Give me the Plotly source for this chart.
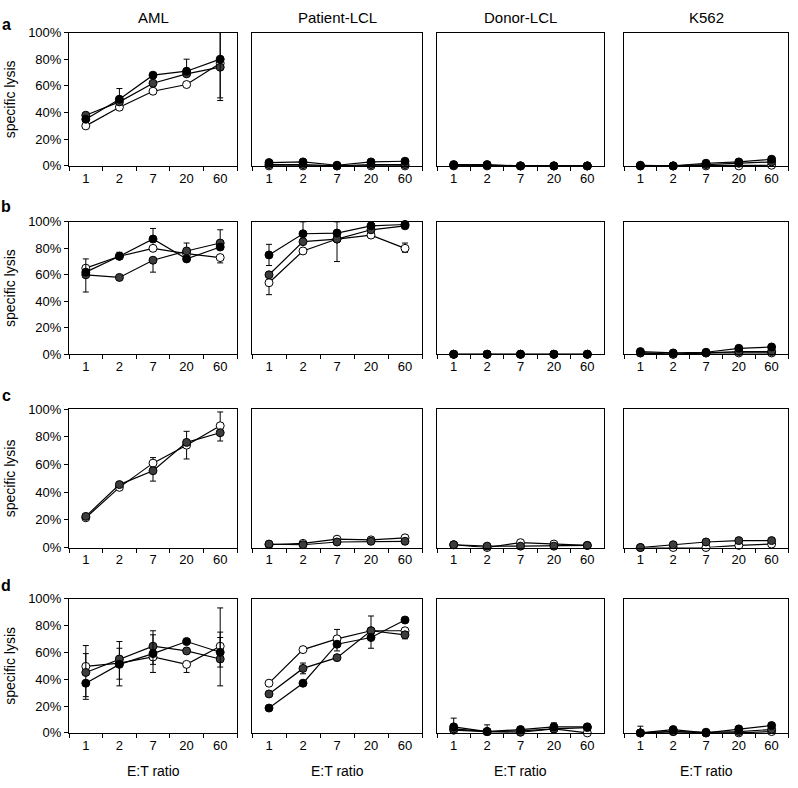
import plotly.graph_objects as go

ratios = ["1", "2", "7", "20", "60"]
columns = ["AML", "Patient-LCL", "Donor-LCL", "K562"]
rows = ["a", "b", "c", "d"]

# ---------------- values (% specific lysis) ----------------
# row a
a_AML_open = [30, 44, 56, 61, 77]
a_AML_gray = [38, 48, 62, 69, 74]
a_AML_black = [35, 50, 68, 71, 80]
a_Patient_open = [0, 0, 0, 0, 0]
a_Patient_gray = [1, 1, 0, 1, 1]
a_Patient_black = [2.5, 3, 0.5, 3, 3.5]
a_Donor_open = [0, 0, 0, 0, 0]
a_Donor_gray = [0.5, 0.5, 0, 0, 0]
a_Donor_black = [1, 1, 0, 0, 0]
a_K562_open = [0, 0, 0, 0, 0.5]
a_K562_gray = [0, 0, 1, 2, 3]
a_K562_black = [0.5, 0, 2, 3, 5]
# row b
b_AML_open = [65, 74, 80, 76, 73]
b_AML_gray = [60, 58, 71, 78, 84]
b_AML_black = [62, 74, 87, 72, 81]
b_Patient_open = [54, 78, 87, 90, 80]
b_Patient_gray = [60, 85, 87, 94, 97]
b_Patient_black = [75, 91, 91.5, 97, 98]
b_Donor_open = [0, 0, 0, 0, 0]
b_Donor_gray = [0, 0, 0, 0, 0]
b_Donor_black = [0, 0, 0, 0, 0]
b_K562_open = [1, 0, 1, 1, 1]
b_K562_gray = [1, 0, 1, 2, 2]
b_K562_black = [2, 1, 1.5, 4.5, 5.5]
# row c (two effector lines)
c_AML_open = [21.5, 43.5, 61, 74, 88]
c_AML_gray = [22.5, 45.5, 55.5, 76, 83]
c_Patient_open = [2, 3, 6, 5.5, 7]
c_Patient_gray = [2.5, 2, 4, 4.5, 4.5]
c_Donor_open = [2, 0, 3.5, 2.5, 1.5]
c_Donor_gray = [2, 1, 1, 1, 1.5]
c_K562_open = [0, 0, 0, 1.5, 2.5]
c_K562_gray = [0, 2, 4, 5, 5]
# row d
d_AML_open = [49.5, 52, 56.5, 51, 64.5]
d_AML_gray = [45, 55, 64.5, 61, 55]
d_AML_black = [37, 51, 59, 68, 60]
d_Patient_open = [37, 62, 70, 76, 76]
d_Patient_gray = [29, 48, 56, 76, 73]
d_Patient_black = [18.5, 37, 66, 71, 84]
d_Donor_open = [2, 1, 1.5, 3, 0]
d_Donor_gray = [3, 1, 0.5, 3, 4]
d_Donor_black = [4.5, 1, 2.5, 4.5, 4.5]
d_K562_open = [0, 1, 0, 0, 1]
d_K562_gray = [0, 1, 0.5, 1, 2.5]
d_K562_black = [0, 2.5, 0, 3, 5.5]

# ---------------- error bars (upper, lower) ----------------
a_AML_open_err = ([0, 0, 0, 0, 0], [0, 2, 2, 0, 0])
a_AML_gray_err = ([0, 0, 0, 0, 26], [0, 0, 0, 0, 25])
a_AML_black_err = ([0, 8, 0, 9, 20], [0, 0, 0, 0, 29])
b_AML_open_err = ([0, 0, 0, 0, 0], [0, 0, 0, 0, 4])
b_AML_gray_err = ([0, 0, 0, 6, 10], [13, 0, 9, 0, 0])
b_AML_black_err = ([10, 3, 8, 0, 0], [0, 0, 0, 0, 0])
b_Patient_open_err = ([0, 0, 0, 0, 4], [9, 0, 0, 0, 3])
b_Patient_gray_err = ([0, 0, 0, 0, 0], [0, 0, 17, 0, 0])
b_Patient_black_err = ([8, 9, 8.5, 0, 0], [8, 0, 0, 0, 3])
c_AML_open_err = ([0, 0, 4, 0, 10], [0, 0, 0, 10, 0])
c_AML_gray_err = ([0, 0, 0, 8, 0], [0, 0, 7.5, 0, 6])
d_AML_open_err = ([15.5, 11, 0, 0, 28.5], [0, 0, 11.5, 6, 0])
d_AML_gray_err = ([14, 13, 11.5, 0, 20], [18, 20, 0, 0, 20])
d_AML_black_err = ([0, 0, 14, 0, 11], [12, 11, 8, 0, 11])
d_Patient_open_err = ([0, 0, 7, 0, 0], [0, 0, 0, 0, 0])
d_Patient_gray_err = ([0, 4, 0, 11, 0], [0, 4, 0, 0, 3])
d_Patient_black_err = ([0, 0, 0, 0, 0], [0, 0, 5, 8, 0])
d_Donor_black_err = ([6.5, 5, 0, 3, 0], [0, 0, 0, 0, 0])
d_K562_black_err = ([5, 0, 0, 0, 0], [0, 0, 0, 0, 0])

series_styles = {
    "open": dict(color="white"),
    "gray": dict(color="#3d3d3d"),
    "black": dict(color="black"),
}
col_keys = ["AML", "Patient", "Donor", "K562"]

W, H = 798, 788
col_px = [(69, 237), (252, 422), (437, 604), (624, 788)]
row_px = [(26, 162), (219, 354), (410, 551), (603, 740)]
letter_y = [18, 203, 396, 590]

FONT = "Liberation Sans, Arial, sans-serif"
fig = go.Figure()
layout = {}
g = globals()


def nz(lst):
    return [v if v else None for v in lst]


for ri, r in enumerate(rows):
    for ci, ck in enumerate(col_keys):
        idx = ri * 4 + ci + 1
        xa = "x" if idx == 1 else f"x{idx}"
        ya = "y" if idx == 1 else f"y{idx}"
        for s in ["open", "gray", "black"]:
            name = f"{r}_{ck}_{s}"
            if name not in g:
                continue
            vals = g[name]
            err = g.get(name + "_err")
            ey = None
            if err is not None:
                ey = dict(type="data", symmetric=False, array=nz(err[0]),
                          arrayminus=nz(err[1]), color="black",
                          thickness=1, width=3)
            fig.add_trace(go.Scatter(
                x=ratios, y=vals, xaxis=xa, yaxis=ya, mode="lines+markers",
                line=dict(color="black", width=1.2),
                marker=dict(size=8, color=series_styles[s]["color"],
                            line=dict(color="black", width=1)),
                error_y=ey, cliponaxis=False, showlegend=False,
            ))
        x0, x1 = col_px[ci]
        y0, y1 = row_px[ri]
        xkey = "xaxis" if idx == 1 else f"xaxis{idx}"
        ykey = "yaxis" if idx == 1 else f"yaxis{idx}"
        layout[xkey] = dict(
            domain=[x0 / W, x1 / W], anchor=ya, type="category",
            categoryorder="array", categoryarray=ratios,
            tickson="boundaries", ticks="outside", ticklen=4,
            tickcolor="black", showline=True, linecolor="black",
            linewidth=1, mirror=True, showgrid=False, zeroline=False,
            tickfont=dict(family=FONT, size=13, color="black"),
            range=[-0.5, 4.5], fixedrange=True,
        )
        is_first = ci == 0
        layout[ykey] = dict(
            domain=[1 - y1 / H, 1 - y0 / H], anchor=xa, range=[0, 100],
            tickvals=[0, 20, 40, 60, 80, 100],
            ticktext=["0%", "20%", "40%", "60%", "80%", "100%"],
            showticklabels=is_first, ticks="outside" if is_first else "",
            ticklen=4, tickcolor="black", showline=True, linecolor="black",
            linewidth=1, mirror=True, showgrid=False, zeroline=False,
            tickfont=dict(family=FONT, size=13, color="black"),
        )

annotations = []
for ci, name in enumerate(columns):
    x0, x1 = col_px[ci]
    annotations.append(dict(text=name, x=(x0 + x1) / 2 / W, y=1 - 11 / H,
                            xref="paper", yref="paper", showarrow=False,
                            xanchor="center", yanchor="middle",
                            font=dict(family=FONT, size=15, color="black")))
    annotations.append(dict(text="E:T ratio", x=(x0 + x1) / 2 / W,
                            y=1 - 779 / H, xref="paper", yref="paper",
                            showarrow=False, xanchor="center",
                            yanchor="middle",
                            font=dict(family=FONT, size=14, color="black")))
for ri, r in enumerate(rows):
    y0, y1 = row_px[ri]
    annotations.append(dict(text="specific lysis", x=10 / W,
                            y=1 - (y0 + y1) / 2 / H, xref="paper",
                            yref="paper", showarrow=False, textangle=-90,
                            xanchor="center", yanchor="middle",
                            font=dict(family=FONT, size=14, color="black")))
    annotations.append(dict(text=f"<b>{r}</b>", x=6 / W,
                            y=1 - letter_y[ri] / H, xref="paper",
                            yref="paper", showarrow=False, xanchor="center",
                            yanchor="middle",
                            font=dict(family=FONT, size=16, color="black")))

fig.update_layout(
    width=W, height=H, margin=dict(l=0, r=0, t=0, b=0),
    paper_bgcolor="white", plot_bgcolor="white",
    annotations=annotations, **layout,
)
fig.write_html(
    "out.html",
    config={"displayModeBar": False},
    post_script="document.body.style.margin='0';"
                "document.body.style.overflow='hidden';",
)
